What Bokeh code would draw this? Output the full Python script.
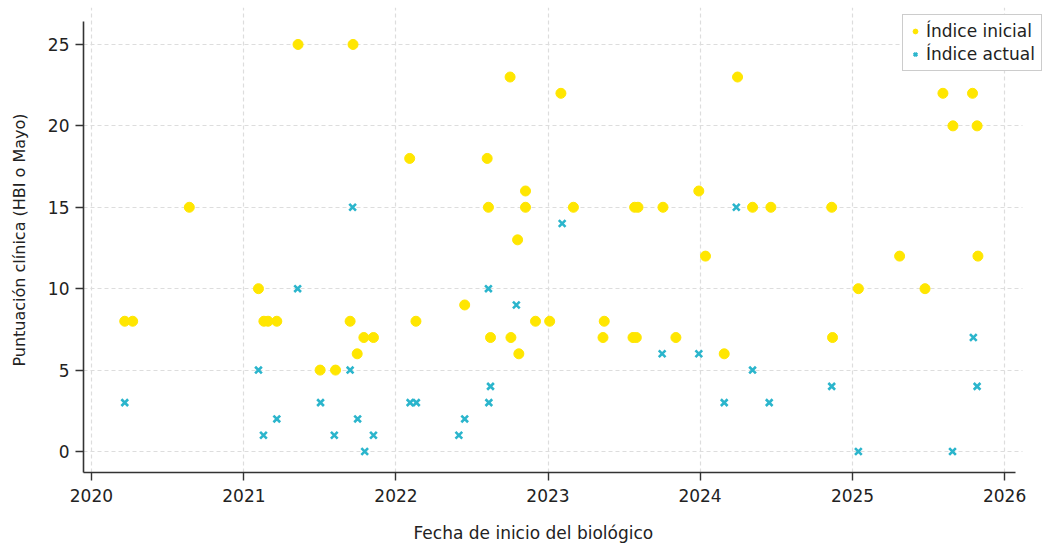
import pandas as pd
from bokeh.plotting import figure
from bokeh.models import (Range1d, DatetimeTickFormatter, Legend, LegendItem, Title,
                          ColumnDataSource, SingleIntervalTicker, BoxAnnotation)
from bokeh.embed import file_html
from bokeh.resources import INLINE

# ---- data ----
initial_dates = [
    "2020-03-21", "2020-04-09", "2020-08-23", "2021-02-05", "2021-02-18", "2021-02-28",
    "2021-03-21", "2021-05-11", "2021-07-03", "2021-08-09", "2021-09-13", "2021-09-20",
    "2021-09-30", "2021-10-16", "2021-11-08", "2022-02-03", "2022-02-18", "2022-06-15",
    "2022-08-08", "2022-08-11", "2022-08-16", "2022-10-02", "2022-10-04", "2022-10-20",
    "2022-10-23", "2022-11-08", "2022-11-08", "2022-12-02", "2023-01-05", "2023-02-01",
    "2023-03-03", "2023-05-13", "2023-05-16", "2023-07-24", "2023-08-01", "2023-07-28",
    "2023-08-05", "2023-10-04", "2023-11-04", "2023-12-29", "2024-01-14", "2024-02-28",
    "2024-03-31", "2024-05-06", "2024-06-19", "2024-11-12", "2024-11-14", "2025-01-15",
    "2025-04-24", "2025-06-24", "2025-08-06", "2025-08-30", "2025-10-16", "2025-10-27",
    "2025-10-29",
]
initial_values = [
    8, 8, 15, 10, 8, 8,
    8, 25, 5, 5, 8, 25,
    6, 7, 7, 18, 8, 9,
    18, 15, 7, 23, 7, 13,
    6, 16, 15, 8, 8, 22,
    15, 7, 8, 7, 7, 15,
    15, 15, 7, 16, 12, 6,
    23, 15, 15, 15, 7, 10,
    12, 10, 22, 20, 22, 20,
    12,
]
current_dates = [
    "2020-03-21", "2021-02-05", "2021-02-17", "2021-03-21", "2021-05-10", "2021-07-04",
    "2021-08-06", "2021-09-13", "2021-09-19", "2021-10-01", "2021-10-18", "2021-11-08",
    "2022-02-04", "2022-02-19", "2022-06-01", "2022-06-15", "2022-08-11", "2022-08-16",
    "2022-08-12", "2022-10-17", "2023-02-04", "2023-10-02", "2023-12-29", "2024-02-28",
    "2024-03-28", "2024-05-06", "2024-06-15", "2024-11-12", "2025-01-15", "2025-08-29",
    "2025-10-18", "2025-10-27",
]
current_values = [
    3, 5, 1, 2, 10, 3,
    1, 5, 15, 2, 0, 1,
    3, 3, 1, 2, 10, 4,
    3, 9, 14, 6, 6, 3,
    15, 5, 3, 4, 0, 0,
    7, 4,
]
year_ticks = ["2020", "2021", "2022", "2023", "2024", "2025", "2026"]
series_labels = ["Índice inicial", "Índice actual"]
x_label = "Fecha de inicio del biológico"
y_label = "Puntuación clínica (HBI o Mayo)"

FONT = "DejaVu Sans"
YELLOW = "#FFE600"
CYAN = "#2BB5CC"
TEXT = "#222222"

X_START = pd.Timestamp("2019-12-13")
X_END = pd.Timestamp("2026-04-26")      # frame spans whole width so the legend is not clipped
GRID_END = pd.Timestamp("2026-02-13")   # grid visually stops here
AXIS_END = pd.Timestamp("2026-01-27")

src_i = ColumnDataSource(dict(x=pd.to_datetime(initial_dates), y=initial_values))
src_c = ColumnDataSource(dict(x=pd.to_datetime(current_dates), y=current_values))

p = figure(width=1052, height=558, output_backend="svg", toolbar_location=None,
           x_axis_type="datetime",
           x_range=Range1d(X_START, X_END),
           y_range=Range1d(-1.29, 27.27),
           min_border_left=83, min_border_right=0, min_border_top=7, min_border_bottom=0)
p.outline_line_color = None
p.background_fill_color = "white"
p.border_fill_color = "white"

# white mask past the grid end
p.add_layout(BoxAnnotation(left=GRID_END, fill_color="white", fill_alpha=1.0,
                           line_color=None, level="underlay"))

r1 = p.scatter("x", "y", source=src_i, marker="circle", size=10,
               fill_color=YELLOW, line_color=YELLOW)
r2 = p.scatter("x", "y", source=src_c, marker="x", size=9.5, line_width=2.6,
               line_color=CYAN)

tick_ms = [pd.Timestamp(t + "-01-01").value // 10**6 for t in year_ticks]
p.xaxis.ticker = tick_ms
p.xaxis.formatter = DatetimeTickFormatter(years="%Y", months="%Y", days="%Y")
p.yaxis.ticker = SingleIntervalTicker(interval=5)

for ax in (p.xaxis[0], p.yaxis[0]):
    ax.axis_line_color = "#333333"
    ax.axis_line_width = 1.6
    ax.major_tick_line_color = "#333333"
    ax.major_tick_line_width = 1.4
    ax.major_tick_out = 8
    ax.major_tick_in = 0
    ax.minor_tick_line_color = None
    ax.major_label_text_font = FONT
    ax.major_label_text_font_size = "17px"
    ax.major_label_text_color = TEXT
    ax.axis_label_text_font = FONT
    ax.axis_label_text_font_size = "16px"
    ax.axis_label_text_font_style = "normal"
    ax.axis_label_text_color = TEXT

p.yaxis.axis_label = y_label
p.xaxis.major_label_standoff = 8
p.yaxis.major_label_standoff = 6
p.yaxis.axis_label_standoff = 16
p.yaxis.bounds = (-1.29, 26.41)
p.xaxis.bounds = (X_START.value // 10**6, AXIS_END.value // 10**6)

# x-axis title, placed under the visible plot area (not the widened frame)
xt = Title(text=x_label, align="left", offset=330, text_font=FONT, text_font_size="17px",
           text_font_style="normal", text_color=TEXT, standoff=32)
p.add_layout(xt, "below")

p.xgrid.ticker = tick_ms
for g in (p.xgrid[0], p.ygrid[0]):
    g.grid_line_color = "#dddddd"
    g.grid_line_dash = "4 3"
    g.grid_line_width = 1.2

legend = Legend(items=[LegendItem(label=series_labels[0], renderers=[r1]),
                       LegendItem(label=series_labels[1], renderers=[r2])],
                location=(819, 401), margin=0)
legend.label_text_font = FONT
legend.label_text_font_size = "17px"
legend.label_text_color = TEXT
legend.glyph_width = 12
legend.glyph_height = 14
legend.label_standoff = 5
legend.label_height = 18
legend.padding = 6
legend.spacing = 3
legend.border_line_color = "#999999"
legend.border_line_width = 1.2
legend.background_fill_color = "white"
legend.background_fill_alpha = 1.0
p.add_layout(legend, "center")

open("out.html", "w").write(file_html(p, INLINE))
